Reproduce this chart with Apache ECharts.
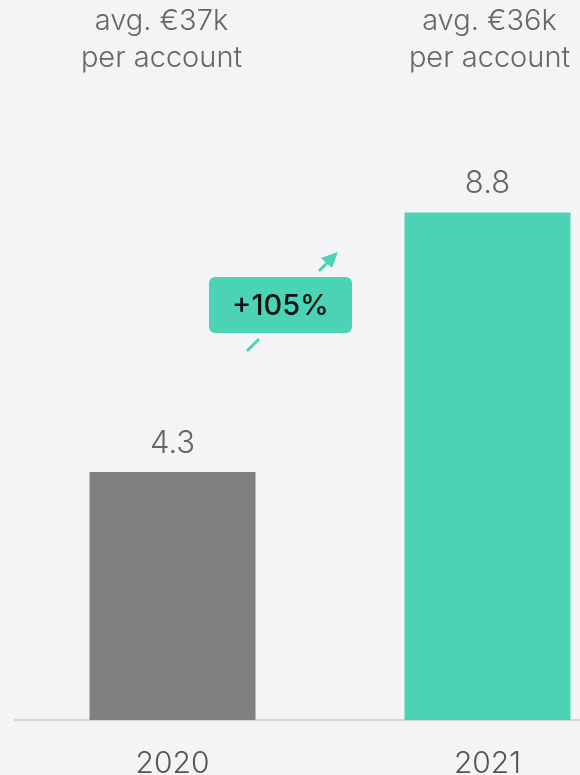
<!DOCTYPE html>
<html lang="en">
<head>
    <meta charset="UTF-8">
    <title>accounts</title>
    <style>
        html, body { margin: 0; padding: 0; background: #f4f4f6; }
        #main { width: 580px; height: 775px; }
    </style>
</head>
<body>
<div id="main"></div>
<script src="https://cdn.jsdelivr.net/npm/echarts@6/dist/echarts.min.js"></script>
<script>
    var years = ['2020', '2021'];
    var values = [4.3, 8.8];
    var avgLabels = ['avg. €37k\nper account', 'avg. €36k\nper account'];
    var barColors = ['#7f7f7f', '#4ad3b5'];
    var growthLabel = '+105%';

    var font = 'Inter';
    var chart = echarts.init(document.getElementById('main'));

    var option = {
        backgroundColor: '#f4f4f6',
        animation: false,
        // plot runs past the right edge, as in the cropped original
        grid: { left: 15, width: 630, top: 80, bottom: 55, containLabel: false, outerBoundsMode: 'none' },
        xAxis: [
            {
                type: 'category',
                data: years,
                position: 'bottom',
                axisLine: { lineStyle: { color: '#d6d6d8', width: 2 } },
                axisTick: { show: false },
                axisLabel: { color: '#555', fontSize: 30, fontWeight: 300, fontFamily: font, margin: 29 }
            },
            {
                type: 'category',
                data: avgLabels,
                position: 'top',
                axisLine: { show: false },
                axisTick: { show: false },
                axisLabel: {
                    color: '#666', fontSize: 29, fontWeight: 300, fontFamily: font, lineHeight: 37, margin: 3,
                    formatter: function (v, i) {
                        var tag = i === 0 ? 'l' : 'r';
                        return v.split('\n').map(function (s) { return '{' + tag + '|' + s + '}'; }).join('\n');
                    },
                    rich: {
                        l: { color: '#666', fontSize: 29, fontFamily: font, lineHeight: 37, padding: [0, 22, 0, 0] },
                        r: { color: '#666', fontSize: 29, fontFamily: font, lineHeight: 37, padding: [0, 0, 0, 4] }
                    }
                }
            }
        ],
        yAxis: {
            type: 'value',
            min: 0,
            max: 11.1,
            show: false,
            splitLine: { show: false }
        },
        series: [{
            type: 'bar',
            barWidth: '52.7%',
            data: values.map(function (v, i) {
                return { value: v, itemStyle: { color: barColors[i] } };
            }),
            label: {
                show: true,
                position: 'top',
                distance: 13,
                color: '#666',
                fontSize: 31,
                fontWeight: 300,
                fontFamily: font
            }
        }],
        graphic: [
            {
                type: 'line',
                shape: { x1: 247, y1: 351, x2: 259, y2: 339 },
                style: { stroke: '#4ad3b5', lineWidth: 3 }
            },
            {
                type: 'line',
                shape: { x1: 319, y1: 271, x2: 330, y2: 260 },
                style: { stroke: '#4ad3b5', lineWidth: 3 }
            },
            {
                type: 'polygon',
                shape: { points: [[338, 252], [321, 258], [332, 268]] },
                style: { fill: '#4ad3b5' }
            },
            {
                type: 'rect',
                shape: { x: 209, y: 277, width: 143, height: 56, r: 6 },
                style: { fill: '#4ad3b5' }
            },
            {
                type: 'text',
                x: 280.5,
                y: 306,
                style: {
                    text: growthLabel,
                    fill: '#111',
                    font: '500 29px Inter',
                    align: 'center',
                    verticalAlign: 'middle'
                }
            }
        ]
    };

    chart.setOption(option);
</script>
</body>
</html>
